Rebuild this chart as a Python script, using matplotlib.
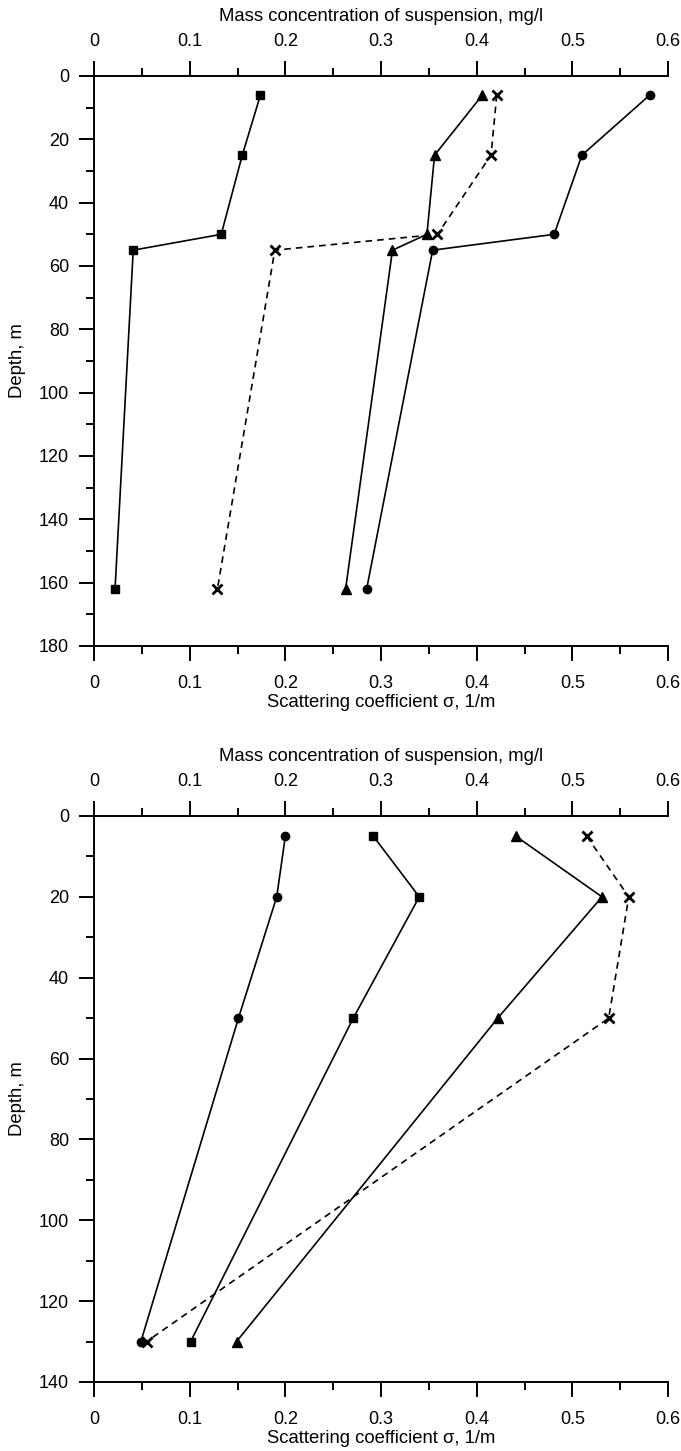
import matplotlib.pyplot as plt
from matplotlib.ticker import MultipleLocator

plt.rcParams['font.family'] = ['Liberation Sans', 'DejaVu Sans']

# upper panel
depth_top = [6, 25, 50, 55, 162]
sq_top = [0.174, 0.155, 0.133, 0.041, 0.022]
tri_top = [0.406, 0.356, 0.348, 0.312, 0.263]
x_top = [0.421, 0.415, 0.359, 0.189, 0.129]
circ_top = [0.581, 0.510, 0.481, 0.354, 0.285]

# lower panel
depth_bot = [5, 20, 50, 130]
circ_bot = [0.200, 0.191, 0.151, 0.049]
sq_bot = [0.292, 0.340, 0.271, 0.101]
tri_bot = [0.441, 0.531, 0.422, 0.149]
x_bot = [0.515, 0.559, 0.538, 0.055]

xticks = [0, 0.1, 0.2, 0.3, 0.4, 0.5, 0.6]
xticklabels = ['0', '0.1', '0.2', '0.3', '0.4', '0.5', '0.6']
xlab_top = 'Mass concentration of suspension, mg/l'
xlab_bot = 'Scattering coefficient \u03c3, 1/m'

fig = plt.figure(figsize=(6.81, 14.51), dpi=100)
W, H = 681, 1451
ax1 = fig.add_axes([94 / W, 1 - 646 / H, (668 - 94) / W, (646 - 76) / H])
ax2 = fig.add_axes([94 / W, 1 - 1382 / H, (668 - 94) / W, (1382 - 816) / H])

TS = 13
LS = 13.3


def style(ax, ymax):
    ax.set_xlim(0, 0.6)
    ax.set_ylim(ymax, 0)
    ax.spines['right'].set_visible(False)
    ax.spines['top'].set_visible(False)
    for s in ax.spines.values():
        s.set_linewidth(1.4)
    ax.xaxis.set_minor_locator(MultipleLocator(0.05))
    ax.yaxis.set_major_locator(MultipleLocator(20))
    ax.yaxis.set_minor_locator(MultipleLocator(10))
    ax.set_xticks(xticks)
    ax.set_xticklabels(xticklabels)
    ax.tick_params(axis='x', which='major', direction='out', length=11, width=1.4, pad=10, labelsize=TS)
    ax.tick_params(axis='x', which='minor', direction='out', length=6, width=1.4)
    ax.tick_params(axis='y', which='major', direction='out', length=11, width=1.4, pad=7, labelsize=TS)
    ax.tick_params(axis='y', which='minor', direction='out', length=6, width=1.4)
    ax.set_xlabel(xlab_bot, fontsize=LS, labelpad=1)
    ax.set_ylabel('Depth, m', fontsize=LS, va='center')
    ax.yaxis.set_label_coords(-0.134, 0.5)

    sec = ax.secondary_xaxis('top')
    sec.spines['top'].set_linewidth(1.4)
    sec.xaxis.set_minor_locator(MultipleLocator(0.05))
    sec.set_xticks(xticks)
    sec.set_xticklabels(xticklabels)
    sec.tick_params(axis='x', which='major', direction='out', length=11, width=1.4, pad=8, labelsize=TS)
    sec.tick_params(axis='x', which='minor', direction='out', length=6, width=1.4)
    sec.set_xlabel(xlab_top, fontsize=LS, labelpad=8)


def curves(ax, d, sq, tri, xx, ci):
    kw = dict(color='black', lw=1.2, clip_on=False)
    ax.plot(sq, d, marker='s', ms=6, **kw)
    ax.plot(tri, d, marker='^', ms=7, **kw)
    ax.plot(ci, d, marker='o', ms=6, **kw)
    ax.plot(xx, d, marker='x', ms=7.5, mew=2, ls=(0, (4, 3)), **kw)


style(ax1, 180)
style(ax2, 140)
curves(ax1, depth_top, sq_top, tri_top, x_top, circ_top)
curves(ax2, depth_bot, sq_bot, tri_bot, x_bot, circ_bot)

fig.savefig('out.png', dpi=100)
